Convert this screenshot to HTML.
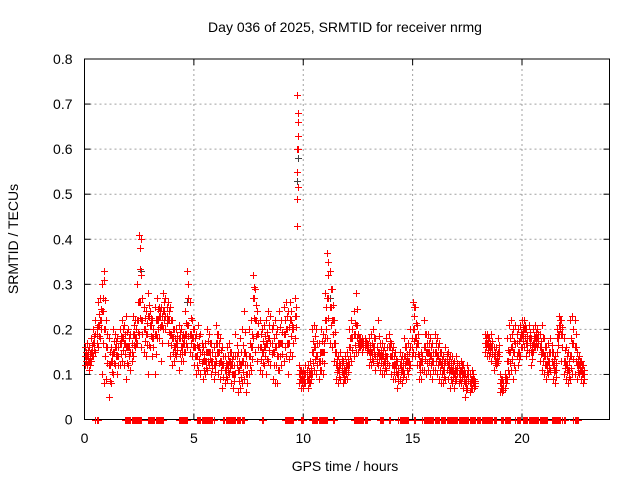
<!DOCTYPE html>
<html><head><meta charset="utf-8"><style>
body{margin:0;background:#fff;}
svg{display:block;font-family:"Liberation Sans",sans-serif;}
</style></head><body>
<svg id="chart" width="640" height="480">
<text x="345" y="32" font-size="14" text-anchor="middle">Day 036 of 2025, SRMTID for receiver nrmg</text>
<text x="345" y="471" font-size="14" text-anchor="middle">GPS time / hours</text>
<text transform="translate(18,239) rotate(-90)" font-size="14" text-anchor="middle">SRMTID / TECUs</text>
<g id="grid"></g>
<g id="axes"></g>
<g id="pts"></g>
</svg>
<script>
const xTicks=[0,5,10,15,20];
const yTicks=[0,0.1,0.2,0.3,0.4,0.5,0.6,0.7,0.8];
const yTickLabels=["0","0.1","0.2","0.3","0.4","0.5","0.6","0.7","0.8"];
const startHour=0.0;
const hi=[.16,.17,.16,.18,.20,.22,.26,.27,.30,.33,
.22,.18,.16,.20,.19,.18,.20,.22,.21,.23,
.20,.19,.23,.22,.30,.41,.32,.25,.24,.28,
.24,.22,.25,.27,.25,.25,.28,.27,.26,.25,
.22,.20,.20,.21,.20,.19,.24,.33,.26,.22,
.20,.19,.21,.19,.16,.17,.20,.19,.17,.16,
.21,.19,.18,.16,.14,.16,.17,.15,.14,.19,
.15,.18,.20,.24,.14,.20,.22,.32,.29,.24,
.22,.20,.21,.22,.24,.23,.21,.22,.20,.24,
.22,.25,.26,.24,.26,.21,.27,.72,.12,.11,
.11,.12,.12,.13,.20,.21,.20,.17,.20,.19,
.28,.37,.33,.29,.22,.15,.14,.15,.13,.14,
.15,.20,.22,.24,.28,.19,.18,.18,.18,.17,
.18,.19,.20,.18,.22,.17,.17,.16,.18,.19,
.17,.16,.15,.13,.15,.14,.18,.16,.17,.20,
.26,.25,.21,.14,.15,.22,.19,.19,.18,.17,
.19,.18,.17,.15,.14,.16,.15,.14,.14,.13,
.14,.12,.13,.12,.10,.12,.10,.11,.09,null,
null,null,null,.19,.19,.18,.19,.16,.16,.18,
.10,.09,.10,.18,.21,.22,.20,.21,.20,.21,
.22,.22,.20,.21,.18,.20,.21,.20,.19,.21,
.18,.16,.17,.18,.15,.14,.20,.23,.22,.18,
.16,.15,.22,.23,.22,.15,.14,.13,.12];
const mid=[.14,.14,.13,.15,.17,.19,.21,.22,.24,.20,
.16,.12,.13,.15,.16,.14,.17,.18,.17,.16,
.16,.15,.19,.18,.22,.26,.22,.20,.19,.23,
.21,.18,.19,.22,.23,.21,.24,.23,.22,.19,
.18,.16,.17,.18,.16,.17,.19,.21,.19,.18,
.16,.14,.16,.15,.13,.13,.15,.15,.13,.12,
.17,.15,.13,.12,.11,.12,.13,.12,.10,.14,
.11,.12,.13,.15,.10,.14,.16,.27,.22,.19,
.16,.15,.16,.17,.18,.17,.15,.16,.14,.17,
.17,.19,.20,.17,.22,.20,.23,.60,.10,.09,
.09,.10,.09,.10,.15,.16,.14,.13,.15,.15,
.22,.27,.25,.22,.17,.12,.11,.12,.10,.11,
.12,.16,.18,.19,.21,.17,.17,.17,.17,.16,
.15,.15,.16,.14,.15,.14,.14,.13,.14,.16,
.14,.12,.12,.10,.12,.11,.14,.13,.13,.16,
.20,.18,.17,.12,.13,.16,.15,.15,.14,.13,
.15,.14,.13,.12,.11,.13,.12,.11,.11,.10,
.11,.10,.11,.10,.08,.10,.08,.09,.08,null,
null,null,null,.17,.17,.16,.16,.14,.13,.15,
.08,.07,.09,.13,.15,.16,.15,.17,.15,.18,
.19,.20,.17,.18,.15,.17,.18,.18,.16,.15,
.14,.12,.13,.15,.12,.11,.18,.21,.19,.13,
.12,.11,.14,.17,.16,.12,.12,.11,.10];
const lo=[.12,.12,.11,.13,.14,.15,.16,.18,.10,.08,
.09,.05,.08,.10,.12,.10,.12,.13,.12,.09,
.12,.11,.14,.16,.17,.19,.16,.15,.14,.10,
.16,.14,.10,.18,.18,.13,.20,.20,.17,.14,
.12,.13,.14,.11,.13,.13,.15,.16,.15,.14,
.12,.10,.11,.10,.09,.10,.11,.12,.10,.09,
.13,.10,.09,.07,.08,.09,.10,.08,.07,.10,
.06,.07,.08,.09,.06,.10,.11,.18,.15,.13,
.11,.10,.12,.10,.13,.12,.09,.08,.08,.11,
.12,.13,.14,.10,.15,.14,.18,.43,.08,.07,
.07,.08,.07,.08,.10,.11,.10,.09,.11,.10,
.18,.18,.17,.16,.13,.09,.08,.09,.08,.09,
.09,.12,.13,.14,.15,.15,.16,.15,.16,.15,
.12,.12,.13,.11,.12,.11,.10,.10,.11,.12,
.10,.09,.09,.07,.09,.08,.10,.09,.10,.12,
.15,.14,.12,.09,.09,.11,.10,.11,.10,.09,
.11,.10,.09,.08,.08,.09,.09,.07,.08,.07,
.09,.08,.08,.07,.05,.07,.06,.07,.07,null,
null,null,null,.15,.14,.14,.13,.11,.12,.13,
.06,.06,.07,.09,.10,.11,.09,.11,.12,.14,
.16,.16,.14,.15,.12,.15,.16,.16,.13,.11,
.10,.09,.10,.11,.09,.08,.15,.19,.13,.10,
.09,.08,.09,.10,.10,.09,.10,.09,.08];
const extraTimes=[9.7,9.72,9.74,9.76,2.55,2.6,0.9,4.72,11.12,15.05];
const extraValues=[0.49,0.55,0.63,0.68,0.38,0.40,0.31,0.30,0.35,0.25];
const blackTimes=[9.73,9.75,2.6,4.7,11.2,21.8];
const blackValues=[0.53,0.58,0.33,0.26,0.27,0.22];
const zeroStarts=[0.5,1.85,2.9,4.3,5.15,6.35,7.2,8.1,9.15,9.9,10.4,11.35,12.3,13.5,13.9,14.35,15.05,15.45,16.3,17.95,19.05,19.7,20.05,21.35,21.85,22.35];
const zeroEnds=[0.6,2.6,3.6,4.7,5.9,7.1,7.3,8.15,9.55,10.0,11.1,11.4,12.9,13.65,13.95,14.8,15.1,16.2,17.85,18.8,19.45,19.9,21.15,21.75,21.95,22.55];

const NS="http://www.w3.org/2000/svg";
const L=84.5,R=609.5,T=59,B=419.5;
const xs=t=>L+(R-L)*t/24;
const ys=v=>B-(B-T)*v/0.8;
function mk(tag,attrs,parent){const e=document.createElementNS(NS,tag);for(const k in attrs)e.setAttribute(k,attrs[k]);parent.appendChild(e);return e;}
const grid=document.getElementById('grid'),axes=document.getElementById('axes'),pts=document.getElementById('pts');
yTicks.forEach((v,i)=>{
  const y=ys(v);
  if(i>0&&i<yTicks.length-1){const g=mk('line',{x1:L,x2:R,y1:y,y2:y,stroke:'#a0a0a0','stroke-dasharray':'2,3'},grid);
  
  }
  mk('line',{x1:L,x2:L+6,y1:y,y2:y,stroke:'#000'},axes);
  mk('line',{x1:R,x2:R-6,y1:y,y2:y,stroke:'#000'},axes);
  const t=mk('text',{x:L-12,y:y+5,'font-size':14,'text-anchor':'end'},axes);t.textContent=yTickLabels[i];
  
  
});
xTicks.forEach(v=>{
  const x=xs(v);
  if(v>0){const g=mk('line',{x1:x,x2:x,y1:T,y2:B,stroke:'#a0a0a0','stroke-dasharray':'2,3'},grid);
  
  }
  mk('line',{x1:x,x2:x,y1:B,y2:B-6,stroke:'#000'},axes);
  mk('line',{x1:x,x2:x,y1:T,y2:T+6,stroke:'#000'},axes);
  const t=mk('text',{x:x,y:443,'font-size':14,'text-anchor':'middle'},axes);t.textContent=String(v);
  
  
});
const frame=mk('rect',{x:L,y:T,width:R-L,height:B-T,fill:'none',stroke:'#000'},axes);


let d='',db='';
function plus(t,v){const x=Math.round(xs(t))+0.5,y=Math.round(ys(v))+0.5;return `M${x-3.5} ${y}h7M${x} ${y-3.5}v7`;}
blackTimes.forEach((t,i)=>{db+=plus(t,blackValues[i]);});
[hi,mid,lo].forEach(arr=>arr.forEach((v,i)=>{
  if(v==null)return;
  const t=startHour+i*0.1;
  d+=plus(t,v);
  d+=plus(t+0.05,(v+mid[i])/2);
}));
extraTimes.forEach((t,i)=>{d+=plus(t,extraValues[i]);});
zeroStarts.forEach((s,i)=>{for(let t=s;t<=zeroEnds[i]+1e-6;t+=0.05)d+=plus(t,0);});
const pb=mk('path',{d:db,stroke:'#404040','stroke-width':1,fill:'none','shape-rendering':'crispEdges'},pts);


const pr=mk('path',{d:d,stroke:'#ff0000','stroke-width':1.3,fill:'none','shape-rendering':'crispEdges'},pts);


</script>
</body></html>
